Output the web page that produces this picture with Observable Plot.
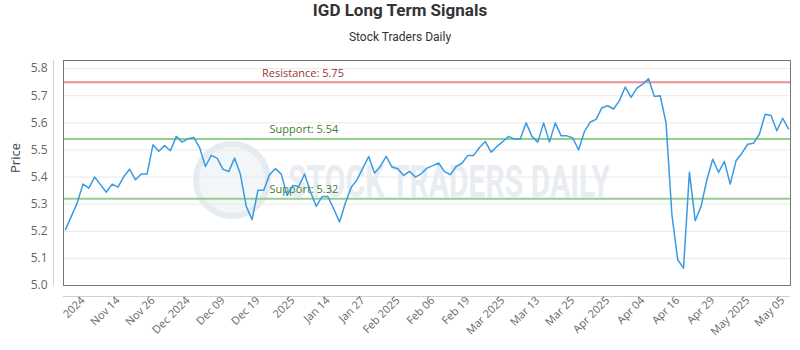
<!DOCTYPE html>
<html>
<head>
<meta charset="utf-8">
<script src="https://cdn.jsdelivr.net/npm/d3@7"></script>
<script src="https://cdn.jsdelivr.net/npm/@observablehq/plot@0.6"></script>
<style>
  body { margin: 0; background: #fff; }
  #wrap { position: relative; width: 800px; height: 350px; overflow: hidden; }
  #title { height: 30px; line-height: 30px; text-align: center; font: bold 17px Roboto, sans-serif; color: #333; }
  #sub { height: 20px; line-height: 20px; text-align: center; font: 12px Roboto, sans-serif; color: #333; }
  #wm { position: absolute; left: 0; top: 0; z-index: 0; }
  #chart { position: relative; z-index: 1; }
</style>
</head>
<body>
<div id="wrap">
  <svg id="wm" width="800" height="350">
    <circle cx="232" cy="180" r="36" fill="#f3f6f8" stroke="#e6ebf0" stroke-width="6"></circle>
    <text x="288" y="197" textLength="322" lengthAdjust="spacingAndGlyphs" fill="#e9edf2" style="font: bold 44px Roboto, sans-serif;">STOCK TRADERS DAILY</text>
  </svg>
  <div id="title">IGD Long Term Signals</div>
  <div id="sub">Stock Traders Daily</div>
  <div id="chart"></div>
</div>
<script>
// Daily closing prices (one per trading session)
const prices = [
  5.206, 5.255, 5.304, 5.374, 5.359, 5.400, 5.372, 5.344, 5.374, 5.363,
  5.402, 5.429, 5.390, 5.411, 5.411, 5.519, 5.495, 5.516, 5.497, 5.550,
  5.529, 5.541, 5.546, 5.509, 5.439, 5.480, 5.470, 5.429, 5.420, 5.470,
  5.410, 5.292, 5.243, 5.351, 5.351, 5.409, 5.431, 5.411, 5.332, 5.369,
  5.365, 5.411, 5.347, 5.292, 5.328, 5.328, 5.283, 5.234, 5.304, 5.362,
  5.390, 5.433, 5.476, 5.415, 5.439, 5.476, 5.437, 5.431, 5.406, 5.421,
  5.400, 5.412, 5.433, 5.442, 5.452, 5.420, 5.409, 5.439, 5.451, 5.480,
  5.480, 5.509, 5.531, 5.492, 5.513, 5.531, 5.550, 5.540, 5.540, 5.600,
  5.550, 5.529, 5.600, 5.529, 5.600, 5.552, 5.552, 5.544, 5.500, 5.568,
  5.603, 5.613, 5.656, 5.663, 5.651, 5.682, 5.732, 5.694, 5.728, 5.743,
  5.763, 5.697, 5.700, 5.599, 5.261, 5.095, 5.064, 5.418, 5.239, 5.292,
  5.390, 5.466, 5.417, 5.458, 5.374, 5.460, 5.488, 5.521, 5.525, 5.558,
  5.632, 5.627, 5.571, 5.617, 5.578
];

// X-axis tick labels and the session index each one sits on
const tickLabels = ["2024", "Nov 14", "Nov 26", "Dec 2024", "Dec 09", "Dec 19", "2025",
  "Jan 14", "Jan 27", "Feb 2025", "Feb 06", "Feb 19", "Mar 2025", "Mar 13", "Mar 25",
  "Apr 2025", "Apr 04", "Apr 16", "Apr 29", "May 2025", "May 05"];
const tickIndex = [3, 9, 15, 21, 27, 33, 39, 45, 51, 57, 63, 69, 75, 81, 87, 93, 99, 105, 111, 117, 123];

// Y-axis ticks
const yTicks = [5.0, 5.1, 5.2, 5.3, 5.4, 5.5, 5.6, 5.7, 5.8];

// Signal levels
const levelKinds = ["Resistance", "Support", "Support"];
const levelValues = [5.75, 5.54, 5.32];
const levelAt = [33.7, 35, 35];

const data = prices.map((p, i) => ({i, p}));
const levels = levelKinds.map((k, j) => ({kind: k, value: levelValues[j], at: levelAt[j], label: `${k}: ${levelValues[j].toFixed(2)}`}));
const resist = levels.filter(d => d.kind === "Resistance");
const support = levels.filter(d => d.kind === "Support");
const xDomain = [-0.34, prices.length - 1 + 0.34];
const yDomain = [5.0, 5.83];

const chart = Plot.plot({
  width: 800,
  height: 300,
  marginTop: 10,
  marginBottom: 65,
  marginLeft: 63,
  marginRight: 10,
  style: {background: "transparent", fontFamily: "'Open Sans', sans-serif", fontSize: "11px", color: "#666", overflow: "visible"},
  x: {domain: xDomain},
  y: {domain: yDomain},
  marks: [
    Plot.gridY(yTicks, {stroke: "#e9e9e9", strokeOpacity: 1}),
    Plot.ruleX([xDomain[0]], {dx: -10, stroke: "#d0d0d0"}),
    Plot.ruleY([yDomain[0]], {dy: 11, stroke: "#d0d0d0"}),
    Plot.ruleY(resist, {y: "value", stroke: "#ee8e8e", strokeWidth: 2}),
    Plot.ruleY(support, {y: "value", stroke: "#93d08a", strokeWidth: 2}),
    Plot.text(resist, {x: "at", y: "value", text: "label", textAnchor: "start", lineAnchor: "bottom", dy: -5, fill: "#9b3535", fontSize: 11}),
    Plot.text(support, {x: "at", y: "value", text: "label", textAnchor: "start", lineAnchor: "bottom", dy: -6, fill: "#3d7d2e", fontSize: 11}),
    Plot.line(data, {x: "i", y: "p", stroke: "#3a9be2", strokeWidth: 1.5}),
    Plot.frame({stroke: "#777"}),
    Plot.axisY(yTicks, {tickFormat: d3.format(".1f"), tickSize: 0, tickPadding: 16, fontSize: 12, label: null}),
    Plot.axisX(tickIndex, {tickFormat: i => tickLabels[tickIndex.indexOf(i)], tickRotate: -45, tickSize: 0, tickPadding: 13, fontSize: 11, label: null}),
    Plot.text(["Price"], {frameAnchor: "left", rotate: -90, dx: -48, fontSize: 13, fill: "#444"})
  ]
});
document.getElementById("chart").appendChild(chart);
</script>
</body>
</html>
